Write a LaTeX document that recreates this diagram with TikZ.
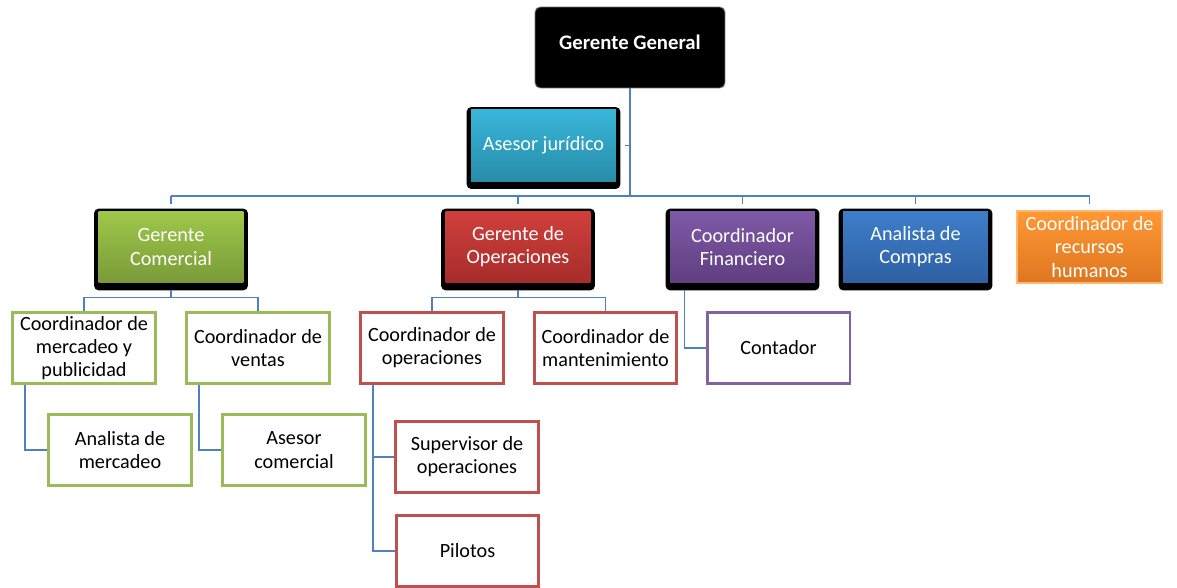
\documentclass[tikz,border=0pt]{standalone}
\usepackage{fontspec}
\setmainfont{Carlito}
\usepackage{xcolor}
\usepackage{tikz}
\usetikzlibrary{positioning,backgrounds}
\definecolor{orgLine}{RGB}{79,129,189}
\definecolor{orgGreen}{RGB}{155,187,89}
\definecolor{orgGreenTop}{RGB}{158,200,74}
\definecolor{orgGreenBot}{RGB}{122,154,56}
\definecolor{orgRed}{RGB}{192,80,77}
\definecolor{orgRedTop}{RGB}{208,64,60}
\definecolor{orgRedBot}{RGB}{166,44,42}
\definecolor{orgPurple}{RGB}{128,100,162}
\definecolor{orgPurpleTop}{RGB}{126,90,166}
\definecolor{orgPurpleBot}{RGB}{96,62,128}
\definecolor{orgBlueTop}{RGB}{62,126,202}
\definecolor{orgBlueBot}{RGB}{46,96,162}
\definecolor{orgOrangeTop}{RGB}{255,152,52}
\definecolor{orgOrangeBot}{RGB}{222,118,32}
\definecolor{orgTealTop}{RGB}{56,182,218}
\definecolor{orgTealBot}{RGB}{40,140,168}
\tikzset{
  orgtext/.style={font=\fontsize{11.5}{13.2}\selectfont,align=center},
  orgline/.style={draw=orgLine,line width=0.75pt},
  orghead/.style={orgtext,text=white,minimum width=2.9cm,minimum height=1.44cm,inner sep=1pt},
  orgleaf/.style={orgtext,text=black,fill=white,line width=1.7pt,minimum width=2.86cm,minimum height=1.42cm,inner sep=1pt},
}

\begin{document}
\begin{tikzpicture}[x=0.02cm,y=-0.02cm]
\useasboundingbox (0,0) rectangle (1177,588);

% Top.
\node[orgtext,font=\fontsize{11.8}{13.2}\selectfont\bfseries,text=white,fill=black,draw=black!55,line width=0.5pt,rounded corners=3pt,minimum width=3.8cm,minimum height=1.62cm,text depth=0.2cm] (gerente) at (630,47.5) {Gerente General};
\node[orghead,top color=orgTealTop,bottom color=orgTealBot] (asesor) at (543.5,145.5) {Asesor jurídico};

% Level 2.
\node[orghead,top color=orgGreenTop,bottom color=orgGreenBot] (comercial) at (171,247) {Gerente\\Comercial};
\node[orghead,top color=orgRedTop,bottom color=orgRedBot] (operaciones) at (518,247) {Gerente de\\Operaciones};
\node[orghead,top color=orgPurpleTop,bottom color=orgPurpleBot] (financiero) at (742.5,247) {Coordinador\\Financiero};
\node[orghead,top color=orgBlueTop,bottom color=orgBlueBot] (compras) at (915.5,247) {Analista de\\Compras};
\node[orghead,top color=orgOrangeTop,bottom color=orgOrangeBot,draw=orgOrangeTop!70!white,line width=0.6pt] (rrhh) at (1089.5,247) {Coordinador de\\recursos\\humanos};

% black frames behind
\begin{scope}[on background layer]
\foreach \n in {asesor,comercial,operaciones,financiero,compras}
  \fill[black,rounded corners=2.5pt] ([shift={(-4,-2)}]\n.north west) rectangle ([shift={(4,7)}]\n.south east);
\end{scope}

% Level 3.
\node[orgleaf,draw=orgGreen] (mercadeo) at (84,348) {Coordinador de\\mercadeo y\\publicidad};
\node[orgleaf,draw=orgGreen] (ventas) at (258,348) {Coordinador de\\ventas};
\node[orgleaf,draw=orgGreen] (analista) at (120,450) {Analista de\\mercadeo};
\node[orgleaf,draw=orgGreen] (asesorcom) at (294,450) {Asesor\\comercial};
\node[orgleaf,draw=orgRed] (coordop) at (432,348) {Coordinador de\\operaciones};
\node[orgleaf,draw=orgRed] (mantenimiento) at (605.5,348) {Coordinador de\\mantenimiento};
\node[orgleaf,draw=orgRed] (supervisor) at (467,457) {Supervisor de\\operaciones};
\node[orgleaf,draw=orgRed] (pilotos) at (467.5,551) {Pilotos};
\node[orgleaf,draw=orgPurple] (contador) at (778.5,348) {Contador};

% Connectors.
\coordinate (bus) at (630,196);
\draw[orgline] (gerente.south) -- (bus);
\draw[orgline] (asesor.east -| gerente.south) -- ([xshift=0.18cm]asesor.east);
\draw[orgline] (comercial.north |- bus) -- (rrhh.north |- bus);
\foreach \n in {comercial,operaciones,financiero,compras,rrhh}
  \draw[orgline] (\n.north |- bus) -- ++(0,8);

\draw[orgline] ([shift={(0,7)}]comercial.south) -- ++(0,7) coordinate (combus);
\draw[orgline] (mercadeo.north) |- (combus) -| (ventas.north);
\draw[orgline] ([shift={(0,7)}]operaciones.south) -- ++(0,7) coordinate (opbus);
\draw[orgline] (coordop.north) |- (opbus) -| (mantenimiento.north);

\draw[orgline] ([xshift=0.28cm]mercadeo.south west) |- (analista.west);
\draw[orgline] ([xshift=0.28cm]ventas.south west) |- (asesorcom.west);
\draw[orgline] ([xshift=0.28cm]coordop.south west) coordinate (opstem) |- (pilotos.west);
\draw[orgline] (opstem |- supervisor.west) -- (supervisor.west);
\draw[orgline] ([shift={(15,7)}]financiero.south west) |- (contador.west);
\end{tikzpicture}
\end{document}
